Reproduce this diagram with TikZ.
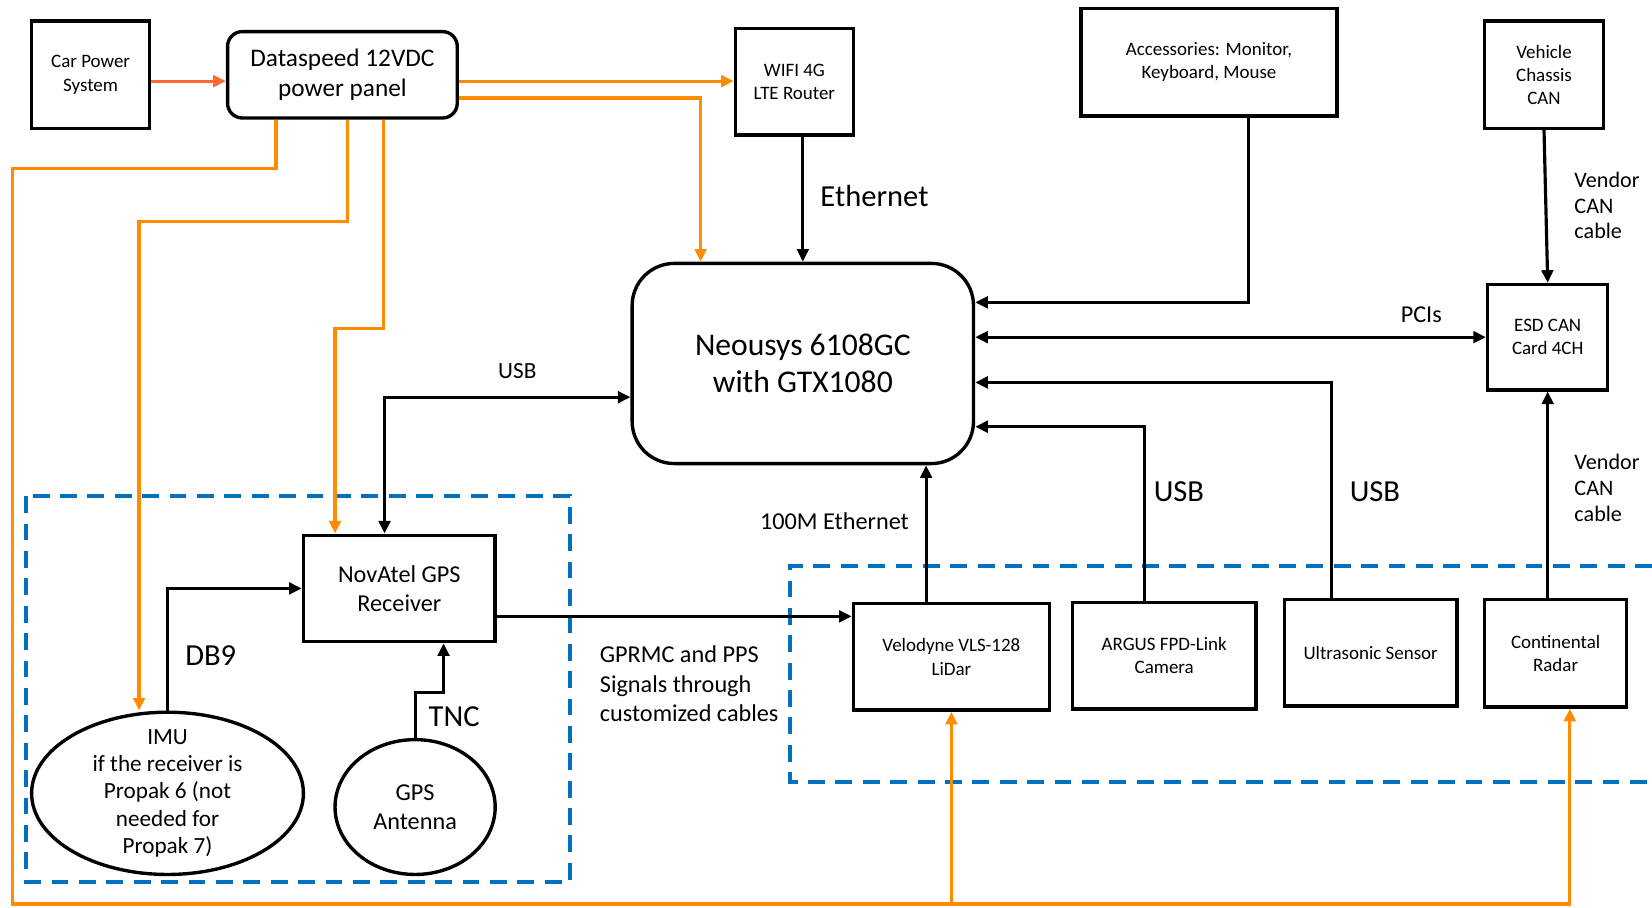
\documentclass[tikz,border=0pt]{standalone}
\usepackage{fontspec}
\setmainfont{Carlito}
\usetikzlibrary{arrows.meta, shapes.geometric}
\definecolor{powerorange}{RGB}{255,140,0}
\definecolor{feedorange}{RGB}{255,105,45}
\definecolor{groupblue}{RGB}{0,112,192}

\begin{document}
\begin{tikzpicture}[
		x = 0.5pt, y = -0.5pt,
		every node/.style = {
			font = \fontsize{11.5}{14}\selectfont
		},
		box/.style = {
			draw = black,
			line width = 1.6pt,
			align = center,
			inner sep = 2pt,
			font = \fontsize{9}{11}\selectfont
		},
		bigbox/.style = {
			box,
			font = \fontsize{11.5}{14}\selectfont
		},
		blob/.style = {
			draw = black,
			line width = 1.6pt,
			ellipse,
			align = center,
			font = \fontsize{11.5}{14}\selectfont
		},
		tag/.style = {
			inner sep = 0pt,
			align = left
		},
		big/.style = {
			tag,
			font = \fontsize{14.5}{17}\selectfont
		},
		wire/.style = {
			line width = 1.5pt,
			-{Triangle[length = 6pt, width = 5.5pt]}
		},
		both/.style = {
			wire,
			{Triangle[length = 6pt, width = 5.5pt]}-{Triangle[length = 6pt, width = 5.5pt]}
		},
		power/.style = {
			wire,
			draw = powerorange
		},
		group/.style = {
			draw = groupblue,
			line width = 1.9pt,
			dash pattern = on 8pt off 5pt
		}
	]
	\useasboundingbox (0, 0) rectangle (1568, 861);

	\node[box, minimum width = 56pt, minimum height = 51pt] (carpower) at (86, 71) {Car Power\\System};
	\node[bigbox, rounded corners = 7pt, minimum width = 109pt, minimum height = 41pt, font = \fontsize{12}{14.5}\selectfont] (dataspeed) at (325, 71) {Dataspeed 12VDC\\power panel};
	\node[box, minimum width = 56pt, minimum height = 50.5pt] (wifi) at (754, 77.5) {WIFI 4G\\LTE Router};
	\node[box, minimum width = 121.5pt, minimum height = 51pt] (accessories) at (1147.5, 59) {Accessories: Monitor,\\Keyboard, Mouse};
	\node[box, minimum width = 56.5pt, minimum height = 51pt] (chassis) at (1465.5, 71) {Vehicle\\Chassis\\CAN};
	\node[box, rounded corners = 20pt, minimum width = 162pt, minimum height = 95pt, font = \fontsize{15}{17.5}\selectfont] (neousys) at (762, 345) {Neousys 6108GC\\with GTX1080};
	\node[box, minimum width = 57pt, minimum height = 50pt] (esdcan) at (1469, 320) {ESD CAN\\Card 4CH};
	\node[bigbox, minimum width = 91pt, minimum height = 50.5pt] (novatel) at (379, 558.5) {NovAtel GPS\\Receiver};
	\node[box, minimum width = 93pt, minimum height = 50.5pt] (velodyne) at (903, 623.5) {Velodyne VLS-128\\LiDar};
	\node[box, minimum width = 87pt, minimum height = 50.5pt] (argus) at (1105, 622.5) {ARGUS FPD-Link\\Camera};
	\node[box, minimum width = 82pt, minimum height = 50.5pt] (ultrasonic) at (1301, 619.5) {Ultrasonic Sensor};
	\node[box, minimum width = 67.5pt, minimum height = 51pt] (radar) at (1476.5, 620) {Continental\\Radar};
	\node[blob, minimum width = 129pt, minimum height = 77pt, inner xsep = 0pt, inner ysep = -6pt, font = \fontsize{11}{13}\selectfont] (imu) at (159, 753) {IMU\\if the receiver is\\Propak 6 (not\\needed for\\Propak 7)};
	\node[blob, minimum width = 76pt, minimum height = 64pt] (antenna) at (394, 766) {GPS\\Antenna};

	\coordinate (busleft) at (12, 858);
	\coordinate (busvelo) at (903, 858);

	\draw[group] (25, 471) rectangle (541, 837);
	\draw[group] (1568, 537) -| (750, 742) -- (1568, 742);

	\draw[power, draw = feedorange] (carpower.east |- 0,77) -- (dataspeed.west |- 0,77);
	\draw[power] (dataspeed.east |- 0,77) -- (wifi.west |- 0,77);
	\draw[power] (dataspeed.east |- 0,93) -| (neousys.north -| 665,0);
	\draw[power] (dataspeed.south -| 262,0) |- (busleft |- 0,160) -- (busleft) -| (radar.south -| 1490,0);
	\draw[power] (busvelo) -- (velodyne.south);
	\draw[power] (dataspeed.south -| 330,0) |- (132, 210) -- (imu.north -| 132,0);
	\draw[power] (dataspeed.south -| 364,0) |- (318, 312) -- (novatel.north -| 318,0);

	\draw[wire] (wifi.south -| neousys.north) -- (neousys.north);
	\draw[wire] (accessories.south -| 1185,0) |- (neousys.east |- 0,287);
	\draw[both] (neousys.east |- esdcan.west) -- (esdcan.west);
	\draw[wire] (chassis.south) -- (esdcan.north);
	\draw[wire] (esdcan.south |- radar.north) -- (esdcan.south);
	\draw[wire] (ultrasonic.north -| 1264,0) |- (neousys.east |- 0,363);
	\draw[wire] (argus.north -| 1086,0) |- (neousys.east |- 0,405);
	\draw[wire] (velodyne.north -| 879,0) -- (neousys.south -| 879,0);
	\draw[both] (novatel.north -| 365,0) |- (neousys.west |- 0,377);
	\draw[wire] (imu.north) |- (novatel.west);
	\draw[wire] (antenna.north) |- (421, 657) -- (novatel.south -| 421,0);
	\draw[wire] (novatel.east |- 0,585) -- (velodyne.west |- 0,585);

	\node[big] (ethernet) at (830, 186) {Ethernet};
	\node[tag] (pcis) at (1349, 299) {PCIs};
	\node[tag, anchor = west, font = \fontsize{10.5}{12.25}\selectfont] (vendortop) at (1494, 195) {Vendor\\CAN\\cable};
	\node[tag, anchor = west, font = \fontsize{10.5}{12.25}\selectfont] (vendorbottom) at (1494, 463) {Vendor\\CAN\\cable};
	\node[big] (usbcamera) at (1119, 467) {USB};
	\node[big] (usbultra) at (1305, 467) {USB};
	\node[tag] (lidarlink) at (792, 495) {100M Ethernet};
	\node[tag, font = \fontsize{11}{13}\selectfont] (usbgps) at (491, 352) {USB};
	\node[big] (db9) at (200, 622) {DB9};
	\node[big] (tnc) at (431, 680) {TNC};
	\node[tag, anchor = west] (gprmc) at (569, 649) {GPRMC and PPS\\Signals through\\customized cables};
\end{tikzpicture}
\end{document}
